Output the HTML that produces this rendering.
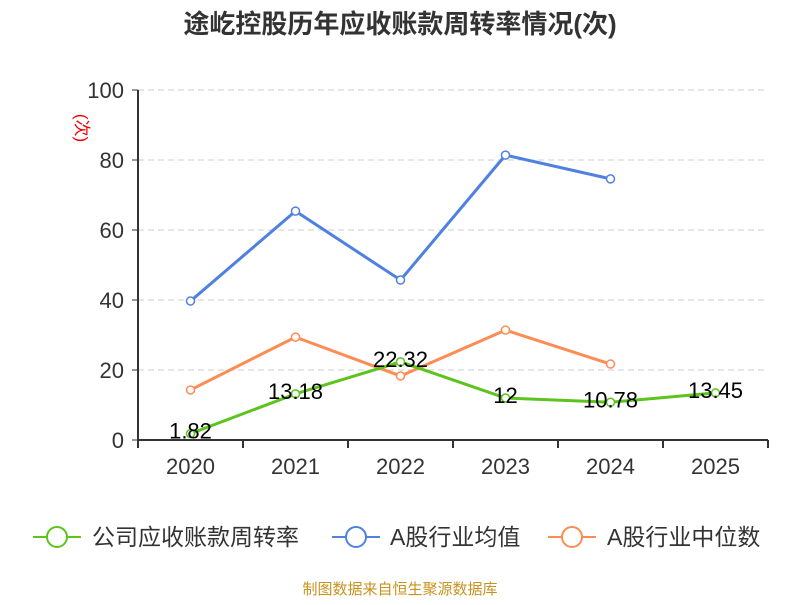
<!DOCTYPE html>
<html><head><meta charset="utf-8"><style>
body{margin:0;background:#fff;font-family:"Liberation Sans","Noto Sans CJK SC",sans-serif}
svg text{font-family:"Liberation Sans","Noto Sans CJK SC",sans-serif}
</style></head><body>
<svg id="c" width="800" height="600" xmlns="http://www.w3.org/2000/svg">
<text x="400" y="33" text-anchor="middle" font-size="26" font-weight="bold" fill="#333">途屹控股历年应收账款周转率情况(次)</text>
<text transform="translate(76,128) rotate(90)" text-anchor="middle" font-size="17" fill="#e00">(次)</text>
<g id="grid"></g><g id="axes"></g><g id="series"></g>
<g>
<g><line x1="33" y1="537" x2="81" y2="537" stroke="#5cc41c" stroke-width="2"/><circle cx="57" cy="537" r="10" fill="#fff" stroke="#5cc41c" stroke-width="2"/><text x="92" y="545" font-size="23" fill="#333">公司应收账款周转率</text></g>
<g><line x1="332" y1="537" x2="380" y2="537" stroke="#4f81e0" stroke-width="2"/><circle cx="356" cy="537" r="10" fill="#fff" stroke="#4f81e0" stroke-width="2"/><text x="390" y="545" font-size="23" fill="#333">A股行业均值</text></g>
<g><line x1="548" y1="537" x2="596" y2="537" stroke="#fd8c55" stroke-width="2"/><circle cx="572" cy="537" r="10" fill="#fff" stroke="#fd8c55" stroke-width="2"/><text x="607" y="545" font-size="23" fill="#333">A股行业中位数</text></g>
</g>
<text x="400" y="594" text-anchor="middle" font-size="15" fill="#c8921e">制图数据来自恒生聚源数据库</text>
</svg>
<script>
const categories=["2020","2021","2022","2023","2024","2025"];
const turnover=[1.82,13.18,22.32,12,10.78,13.45];
const industryAvg=[39.7,65.4,45.7,81.4,74.6];
const industryMedian=[14.3,29.4,18.3,31.4,21.7];
const yTicks=[0,20,40,60,80,100];
const NS="http://www.w3.org/2000/svg";
const x0=138,bw=105,yBase=440,yTop=90;
const xs=i=>x0+bw*(i+0.5);
const ys=v=>yBase-(v/100)*(yBase-yTop);
function mk(t,a,p){const e=document.createElementNS(NS,t);for(const k in a)e.setAttribute(k,a[k]);p.appendChild(e);return e;}
const grid=document.getElementById('grid'),axes=document.getElementById('axes'),ser=document.getElementById('series');
yTicks.forEach(v=>{
 if(v>0){const l=mk('line',{x1:x0,x2:768,y1:ys(v),y2:ys(v),stroke:'#ccc','stroke-dasharray':'6,4'},grid);
 
 }
 const tk=mk('line',{x1:x0-6,x2:x0,y1:ys(v),y2:ys(v),stroke:'#333'},axes);
 
 
 const t=mk('text',{x:x0-14,y:ys(v)+8,'text-anchor':'end','font-size':22,fill:'#333'},axes);t.textContent=v;
 
 
});
const ya=mk('line',{x1:x0,x2:x0,y1:yTop,y2:yBase,stroke:'#333','stroke-width':2},axes);


const xa=mk('line',{x1:x0,x2:768,y1:yBase,y2:yBase,stroke:'#333','stroke-width':2},axes);


for(let i=0;i<=categories.length;i++){const tk=mk('line',{x1:x0+bw*i,x2:x0+bw*i,y1:yBase,y2:yBase+8,stroke:'#333','stroke-width':2},axes);
 
 }
categories.forEach((c,i)=>{const t=mk('text',{x:xs(i),y:474,'text-anchor':'middle','font-size':22,fill:'#333'},axes);t.textContent=c;
 
 });
function line(data,color,name,labels){
 const g=mk('g',{},ser);
 
 
 const p=mk('polyline',{points:data.map((v,i)=>xs(i)+','+ys(v)).join(' '),fill:'none',stroke:color,'stroke-width':3},g);
 
 
 data.forEach((v,i)=>{const c=mk('circle',{cx:xs(i),cy:ys(v),r:4,fill:'#fff',stroke:color,'stroke-width':1.5},g);
  
  
  if(labels){const t=mk('text',{x:xs(i),y:ys(v)+5,'text-anchor':'middle','font-size':22,fill:'#000'},g);t.textContent=v;
  
  }
 });
}
line(industryAvg,'#4f81e0','industry-average-series',false);
line(industryMedian,'#fd8c55','industry-median-series',false);
line(turnover,'#5cc41c','turnover-series',true);
</script>
</body></html>
